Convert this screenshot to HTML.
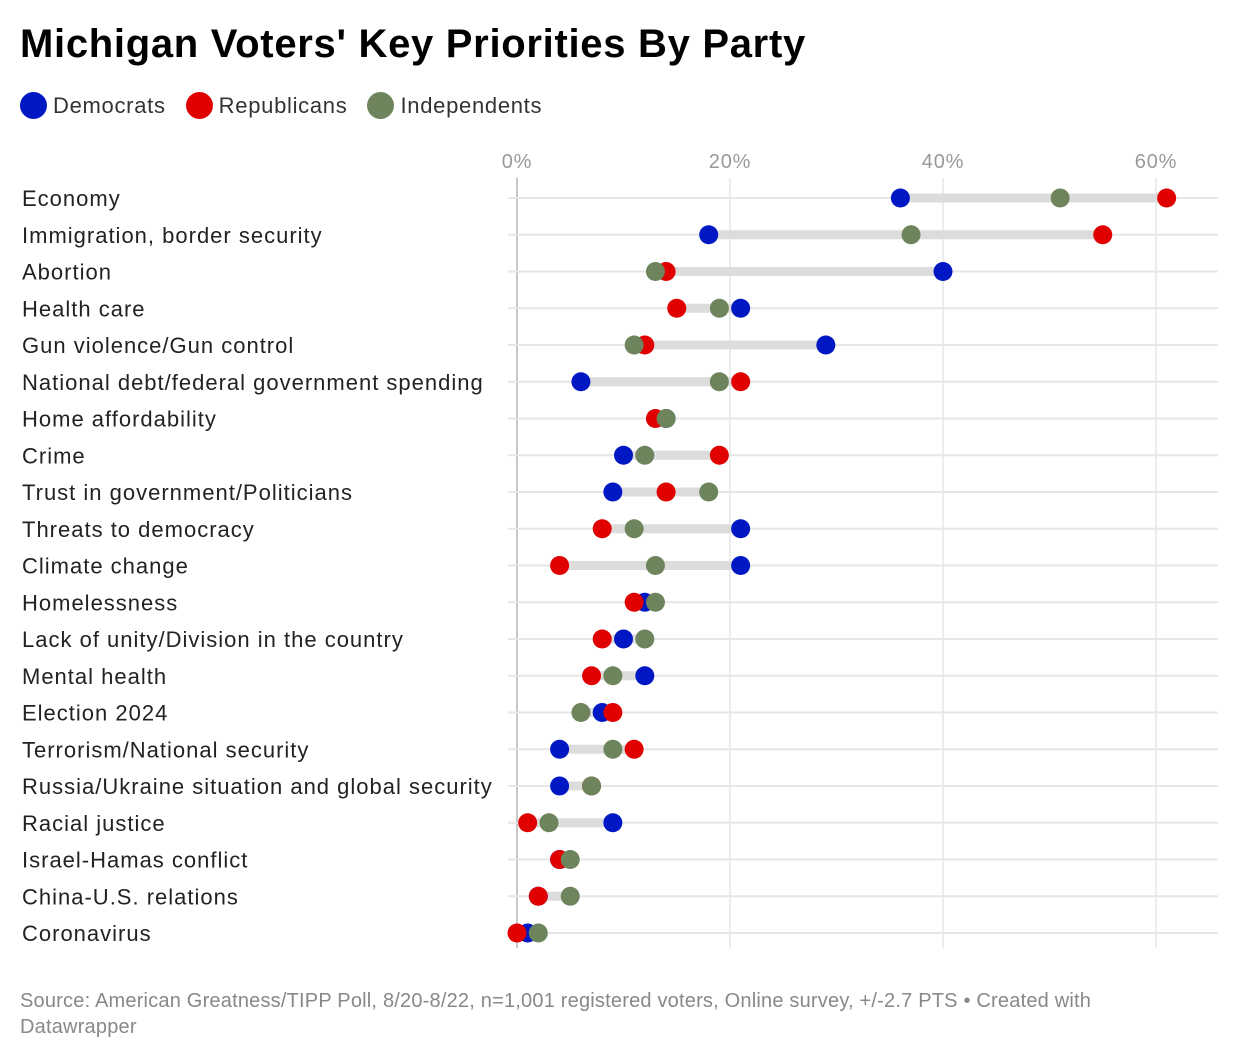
<!DOCTYPE html>
<html><head><meta charset="utf-8"><style>
body{margin:0;width:1240px;height:1062px;background:#fff;font-family:"Liberation Sans",sans-serif;overflow:hidden}
#title{position:absolute;left:20px;top:22px;font-size:40px;font-weight:bold;color:#000;letter-spacing:0.7px}
#legend{position:absolute;left:20px;top:92px;font-size:22px;color:#333;display:flex;gap:20px;letter-spacing:0.7px}
.li{display:flex;align-items:center;gap:6px}
.dot{width:27px;height:27px;border-radius:50%;display:inline-block}
#src{position:absolute;left:20px;top:988px;font-size:20px;color:#888;line-height:26px;width:1150px;letter-spacing:0.2px}
svg{position:absolute;left:0;top:0}
</style></head><body>
<div id="title">Michigan Voters' Key Priorities By Party</div>
<div id="legend">
<span class="li"><span class="dot" style="background:#0018c4"></span>Democrats</span>
<span class="li"><span class="dot" style="background:#e00000"></span>Republicans</span>
<span class="li"><span class="dot" style="background:#6e845c"></span>Independents</span>
</div>
<svg id="chart" width="1240" height="1062"></svg>
<div id="src">Source: American Greatness/TIPP Poll, 8/20-8/22, n=1,001 registered voters, Online survey, +/-2.7 PTS • Created with Datawrapper</div>
<script>
const categories=["Economy","Immigration, border security","Abortion","Health care","Gun violence/Gun control","National debt/federal government spending","Home affordability","Crime","Trust in government/Politicians","Threats to democracy","Climate change","Homelessness","Lack of unity/Division in the country","Mental health","Election 2024","Terrorism/National security","Russia/Ukraine situation and global security","Racial justice","Israel-Hamas conflict","China-U.S. relations","Coronavirus"];
const democrats=[36,18,40,21,29,6,14,10,9,21,21,12,10,12,8,4,4,9,4,2,1];
const republicans=[61,55,14,15,12,21,13,19,14,8,4,11,8,7,9,11,7,1,4,2,0];
const independents=[51,37,13,19,11,19,14,12,18,11,13,13,12,9,6,9,7,3,5,5,2];
const ticks=[0,20,40,60];
const NS="http://www.w3.org/2000/svg";
const svg=document.getElementById('chart');
const x=v=>517+v*10.65;
const y=i=>198+i*36.75;
function el(t,a){const e=document.createElementNS(NS,t);for(const k in a)e.setAttribute(k,a[k]);svg.appendChild(e);return e;}
ticks.forEach(t=>{
  const l=el('line',{x1:x(t),x2:x(t),y1:178,y2:948,stroke:t===0?'#c8c8c8':'#e6e6e6','stroke-width':t===0?2:1.5});
  
  
  const tx=el('text',{x:x(t),y:168,'text-anchor':'middle','font-size':20,fill:'#999','font-family':'Liberation Sans, sans-serif','letter-spacing':'0.8'});
  tx.textContent=t+'%';
  
  
});
categories.forEach((c,i)=>{
  const yy=y(i);
  const r=el('line',{x1:508,x2:1218,y1:yy,y2:yy,stroke:'#e6e6e6','stroke-width':2});
  
  
  const lab=el('text',{x:22,y:yy+8,'font-size':22,fill:'#222','font-family':'Liberation Sans, sans-serif','letter-spacing':'1'});
  lab.textContent=c;
  
  
  const vals=[democrats[i],republicans[i],independents[i]];
  const mn=Math.min(...vals),mx=Math.max(...vals);
  const b=el('line',{x1:x(mn),x2:x(mx),y1:yy,y2:yy,stroke:'#dcdcdc','stroke-width':9});
  
  
  [[democrats,'#0018c4','dot-democrats'],[republicans,'#e00000','dot-republicans'],[independents,'#6e845c','dot-independents']].forEach(([arr,col,n])=>{
    const d=el('circle',{cx:x(arr[i]),cy:yy,r:9.5,fill:col});
    
    
  });
});
</script>
</body></html>
